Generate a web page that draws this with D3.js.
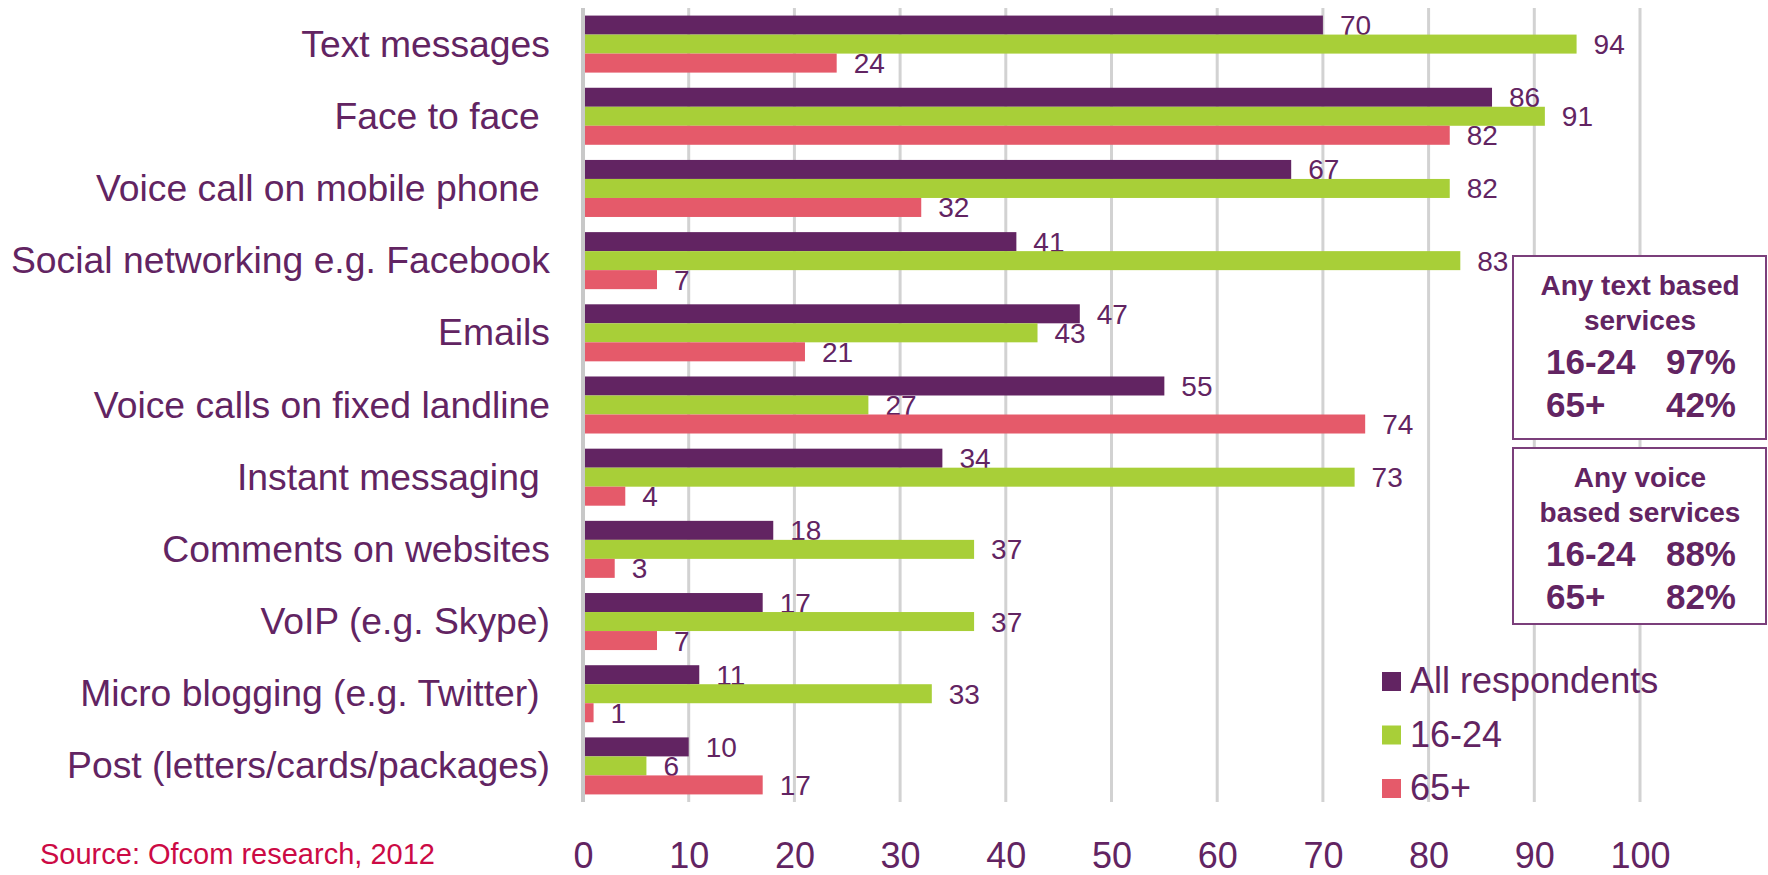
<!DOCTYPE html>
<html>
<head>
<meta charset="utf-8">
<script src="https://cdn.jsdelivr.net/npm/d3@7"></script>
<style>
  html, body { margin: 0; padding: 0; background: #ffffff; }
  svg { display: block; }
  text { font-family: Arial, "Liberation Sans", sans-serif; white-space: pre; }
</style>
</head>
<body>
<svg id="chart" width="1768" height="875"></svg>
<script>
// Communication methods used, by age group (%)
const categories = [
  "Text messages",
  "Face to face ",
  "Voice call on mobile phone ",
  "Social networking e.g. Facebook",
  "Emails",
  "Voice calls on fixed landline",
  "Instant messaging ",
  "Comments on websites",
  "VoIP (e.g. Skype)",
  "Micro blogging (e.g. Twitter) ",
  "Post (letters/cards/packages)"
];
const seriesNames = ["All respondents", "16-24", "65+"];
const allRespondents = [70, 86, 67, 41, 47, 55, 34, 18, 17, 11, 10];
const age16to24      = [94, 91, 82, 83, 43, 27, 73, 37, 37, 33, 6];
const age65plus      = [24, 82, 32, 7, 21, 74, 4, 3, 7, 1, 17];
const xTicks = [0, 10, 20, 30, 40, 50, 60, 70, 80, 90, 100];

// Summary boxes
const textBoxLines = ["Any text based", "services"];
const textBoxRows = [["16-24", "97%"], ["65+", "42%"]];
const voiceBoxLines = ["Any voice", "based services"];
const voiceBoxRows = [["16-24", "88%"], ["65+", "82%"]];

const colors = ["#622462", "#a8cf38", "#e55a6a"];
const textColor = "#622462";
const seriesValues = [allRespondents, age16to24, age65plus];

const svg = d3.select("#chart");

const x = d3.scaleLinear().domain([0, 100]).range([583, 1640]);
const y = d3.scaleBand().domain(categories).range([8, 802])
  .paddingInner(0.21).paddingOuter(0.105);
const ySub = d3.scaleBand().domain(d3.range(seriesNames.length))
  .range([0, y.bandwidth()]);

// Vertical gridlines
svg.append("g").selectAll("line")
  .data(xTicks.filter(t => t > 0))
  .join("line")
  .attr("x1", d => x(d)).attr("x2", d => x(d))
  .attr("y1", 8).attr("y2", 802)
  .attr("stroke", "#d2d2d2").attr("stroke-width", 3);

// Value axis baseline
svg.append("line")
  .attr("x1", x(0)).attr("x2", x(0))
  .attr("y1", 8).attr("y2", 802)
  .attr("stroke", "#c8c8c8").attr("stroke-width", 4);

// Bars with value labels
const groups = svg.append("g").selectAll("g")
  .data(categories)
  .join("g")
  .attr("transform", d => `translate(0,${y(d)})`);

groups.each(function(cat, ci) {
  const g = d3.select(this);
  seriesValues.forEach((vals, si) => {
    g.append("rect")
      .attr("x", x(0) + 2)
      .attr("y", ySub(si))
      .attr("width", x(vals[ci]) - x(0) - 2)
      .attr("height", ySub.bandwidth())
      .attr("fill", colors[si]);
    g.append("text")
      .attr("x", x(vals[ci]) + 17)
      .attr("y", ySub(si) + ySub.bandwidth() / 2 + 10)
      .attr("font-size", 28)
      .attr("fill", textColor)
      .text(vals[ci]);
  });
});

// Category labels
svg.append("g").selectAll("text")
  .data(categories)
  .join("text")
  .attr("x", 550)
  .attr("y", d => y(d) + y.bandwidth() / 2 + 12.5)
  .attr("text-anchor", "end")
  .attr("font-size", 37.3)
  .attr("fill", textColor)
  .text(d => d);

// X axis tick labels
const xAxis = d3.axisBottom(x).tickValues(xTicks).tickSize(0).tickPadding(0);
const axisG = svg.append("g").attr("transform", "translate(0,843)").call(xAxis);
axisG.select(".domain").remove();
axisG.selectAll("text")
  .attr("y", 24.5)
  .attr("dy", 0)
  .attr("font-size", 36)
  .attr("font-family", "Arial, 'Liberation Sans', sans-serif")
  .attr("fill", textColor);

// Source note
svg.append("text")
  .attr("x", 40).attr("y", 864)
  .attr("font-size", 29)
  .attr("fill", "#cc0a45")
  .text("Source: Ofcom research, 2012");

// Legend
const legend = svg.append("g").selectAll("g")
  .data(seriesNames)
  .join("g")
  .attr("transform", (d, i) => `translate(1382,${672 + i * 53.5})`);
legend.append("rect")
  .attr("width", 19).attr("height", 19)
  .attr("fill", (d, i) => colors[i]);
legend.append("text")
  .attr("x", 28).attr("y", 21)
  .attr("font-size", 36)
  .attr("fill", textColor)
  .text(d => d);

// Summary boxes
function summaryBox(top, height, lines, rows) {
  const g = svg.append("g");
  g.append("rect")
    .attr("x", 1513).attr("y", top)
    .attr("width", 1766 - 1513).attr("height", height)
    .attr("fill", "#ffffff")
    .attr("stroke", "#7b3f7b").attr("stroke-width", 2);
  lines.forEach((t, i) => {
    g.append("text")
      .attr("x", 1640).attr("y", top + 39 + i * 35)
      .attr("text-anchor", "middle")
      .attr("font-size", 28).attr("font-weight", "bold")
      .attr("fill", textColor)
      .text(t);
  });
  rows.forEach((r, i) => {
    const by = top + 117.5 + i * 43.4;
    g.append("text")
      .attr("x", 1546).attr("y", by)
      .attr("font-size", 35).attr("font-weight", "bold")
      .attr("fill", textColor).text(r[0]);
    g.append("text")
      .attr("x", 1736).attr("y", by)
      .attr("text-anchor", "end")
      .attr("font-size", 35).attr("font-weight", "bold")
      .attr("fill", textColor).text(r[1]);
  });
}
summaryBox(256, 183, textBoxLines, textBoxRows);
summaryBox(448, 176, voiceBoxLines, voiceBoxRows);
</script>
</body>
</html>
